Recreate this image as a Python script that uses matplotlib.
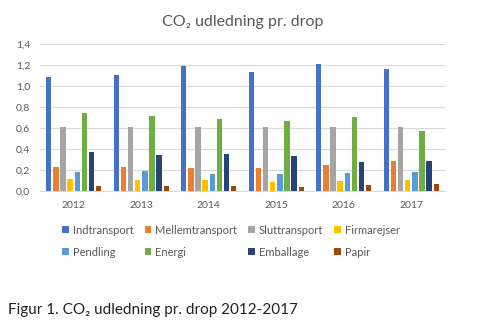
import numpy as np
import matplotlib
matplotlib.use('Agg')
import matplotlib.pyplot as plt

plt.rcParams['font.family'] = ['Lato', 'Open Sans', 'DejaVu Sans']

# Data
years = ['2012', '2013', '2014', '2015', '2016', '2017']
series = ['Indtransport', 'Mellemtransport', 'Sluttransport', 'Firmarejser',
          'Pendling', 'Energi', 'Emballage', 'Papir']
indtransport = [1.09, 1.11, 1.19, 1.13, 1.21, 1.16]
mellemtransport = [0.23, 0.23, 0.22, 0.22, 0.25, 0.29]
sluttransport = [0.61, 0.61, 0.61, 0.61, 0.61, 0.61]
firmarejser = [0.12, 0.11, 0.11, 0.09, 0.10, 0.11]
pendling = [0.18, 0.19, 0.16, 0.16, 0.17, 0.18]
energi = [0.74, 0.72, 0.69, 0.67, 0.71, 0.57]
emballage = [0.37, 0.34, 0.35, 0.33, 0.28, 0.29]
papir = [0.05, 0.05, 0.05, 0.04, 0.06, 0.07]
values = [indtransport, mellemtransport, sluttransport, firmarejser,
          pendling, energi, emballage, papir]
colors = ['#4472C4', '#ED7D31', '#A5A5A5', '#FFC000',
          '#5B9BD5', '#70AD47', '#264478', '#9E480E']

fig = plt.figure(figsize=(5, 3.24), dpi=100)
ax = fig.add_axes([0.08, 0.41, 0.81, 0.454])

x = np.arange(len(years))
slot = 0.106
width = 0.08
for i, (name, vals, c) in enumerate(zip(series, values, colors)):
    ax.bar(x + (i - 3.5) * slot, vals, width, color=c, label=name, zorder=3)

ax.set_xlim(-0.5, len(years) - 0.5)
ax.set_ylim(0, 1.4)
ticks = np.arange(0, 1.41, 0.2)
ax.set_yticks(ticks)
ax.set_yticklabels([f'{v:.1f}'.replace('.', ',') for v in ticks])
ax.set_xticks(x)
ax.set_xticklabels(years)
ax.tick_params(axis='both', length=0, labelsize=7.5, colors='#595959', pad=7)
ax.grid(axis='y', color='#D9D9D9', linewidth=0.8, zorder=0)
for s in ['top', 'right', 'left']:
    ax.spines[s].set_visible(False)
ax.spines['bottom'].set_color('#D9D9D9')

ax.set_title('CO₂ udledning pr. drop', fontsize=11.5, color='#595959', pad=13)

# legend is filled row by row in the reference
handles, labels = ax.get_legend_handles_labels()
order = [0, 4, 1, 5, 2, 6, 3, 7]
ax.legend([handles[i] for i in order], [labels[i] for i in order],
          loc='upper left', bbox_to_anchor=(0.03, -0.16), ncol=4, frameon=False,
          fontsize=8, labelcolor='#595959', handlelength=0.6, handleheight=0.6,
          handletextpad=0.35, columnspacing=1.0, labelspacing=1.0)

fig.text(0.016, 0.03, 'Figur 1. CO₂ udledning pr. drop 2012-2017', fontsize=11,
         color='#222222')

fig.savefig('out.png', dpi=100)
